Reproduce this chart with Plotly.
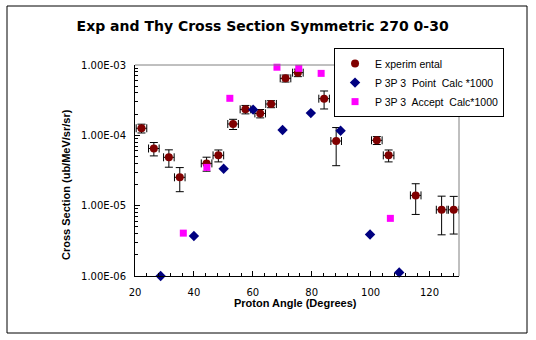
import plotly.graph_objects as go

# Experimental data
exp_x = [22.2, 26.4, 31.5, 35.2, 44.3, 48.3, 53.3, 57.5, 62.5, 66.2, 71.1, 75.3, 84.2, 88.3, 102.1, 106.1, 115.3, 124.1, 128.2]
exp_y = [1.26e-4, 6.5e-5, 4.87e-5, 2.53e-5, 3.99e-5, 5.19e-5, 1.45e-4, 2.34e-4, 2.05e-4, 2.79e-4, 6.46e-4, 7.78e-4, 3.32e-4, 8.3e-5, 8.5e-5, 5.19e-5, 1.4e-5, 8.75e-6, 8.75e-6]
exp_yerr = [1.8e-5, 1.4e-5, 1.35e-5, 0.95e-5, 0.9e-5, 1.0e-5, 0.24e-4, 0.32e-4, 0.28e-4, 0.32e-4, 0.74e-4, 0.95e-4, 0.95e-4, 4.6e-5, 1.1e-5, 1.0e-5, 6.5e-6, 4.9e-6, 4.8e-6]
exp_xerr = [1.8] * 19

# P3P3 Point Calc *1000
pt_x = [28.7, 40.0, 50.1, 60.1, 70.1, 79.7, 89.8, 99.8, 109.7]
pt_y = [1.0e-6, 3.7e-6, 3.35e-5, 2.32e-4, 1.19e-4, 2.07e-4, 1.16e-4, 3.9e-6, 1.12e-6]

# P3P3 Accept Calc *1000
acc_x = [36.4, 44.4, 52.2, 68.2, 75.6, 83.2, 106.7]
acc_y = [4.07e-6, 3.5e-5, 3.36e-4, 9.3e-4, 8.97e-4, 7.6e-4, 6.6e-6]

y_tickvals = [1e-6, 1e-5, 1e-4, 1e-3]
y_ticktext = ["1.00E-06", "1.00E-05", "1.00E-04", "1.00E-03"]
x_tickvals = [20, 40, 60, 80, 100, 120]

minor_y = [k * 10 ** e for e in (-6, -5, -4) for k in range(2, 10)]

FONT = "Arial, Liberation Sans, sans-serif"
WIDE = "DejaVu Sans, sans-serif"

fig = go.Figure()
fig.add_trace(go.Scatter(
    x=exp_x, y=exp_y, mode="markers", name="E xperim ental",
    marker=dict(symbol="circle", size=8, color="#800000"),
    error_y=dict(type="data", array=exp_yerr, color="black", thickness=1, width=4),
    error_x=dict(type="data", array=exp_xerr, color="black", thickness=1, width=4),
    cliponaxis=False,
))
fig.add_trace(go.Scatter(
    x=pt_x, y=pt_y, mode="markers", name="P 3P 3  Point  Calc *1000",
    marker=dict(symbol="diamond", size=8, color="#000080"),
    cliponaxis=False,
))
fig.add_trace(go.Scatter(
    x=acc_x, y=acc_y, mode="markers", name="P 3P 3  Accept  Calc*1000",
    marker=dict(symbol="square", size=7, color="#FF00FF"),
    cliponaxis=False,
))

fig.update_layout(
    width=536, height=340,
    margin=dict(l=135, r=77, t=65, b=64),
    paper_bgcolor="white", plot_bgcolor="white",
    font=dict(family=FONT, size=10, color="black"),
    title=dict(text="<b>Exp and Thy Cross Section Symmetric 270 0-30</b>",
               x=0.49, xanchor="center", y=0.923, yanchor="middle",
               font=dict(family=WIDE, size=14, color="black")),
    showlegend=True,
    legend=dict(x=1.139, xanchor="right", y=1.08, yanchor="top",
                bordercolor="black", borderwidth=1, bgcolor="white",
                font=dict(family=FONT, size=10.5, color="black"),
                itemwidth=30, tracegroupgap=0),
    xaxis=dict(range=[20, 130], tickvals=x_tickvals, ticks="inside", ticklen=5,
               tickcolor="black", showline=True, linecolor="black", linewidth=1,
               showgrid=False, zeroline=False, ticklabelstandoff=7,
               minor=dict(dtick=4, ticks="inside", ticklen=3, tickcolor="black", showgrid=False),
               tickfont=dict(family=WIDE, size=10)),
    yaxis=dict(type="log", range=[-6, -3], tickvals=y_tickvals, ticktext=y_ticktext,
               ticks="inside", ticklen=5, tickcolor="black", showline=True,
               linecolor="black", linewidth=1, showgrid=False, zeroline=False,
               ticklabelstandoff=6,
               minor=dict(tickvals=minor_y, ticks="inside", ticklen=3, tickcolor="black", showgrid=False),
               tickfont=dict(family=WIDE, size=10)),
    shapes=[
        dict(type="line", xref="paper", yref="paper", x0=0, x1=1, y0=1, y1=1,
             line=dict(color="#808080", width=1)),
        dict(type="line", xref="paper", yref="paper", x0=1, x1=1, y0=0, y1=1,
             line=dict(color="#808080", width=1)),
        dict(type="rect", xref="paper", yref="paper",
             x0=(7 - 135) / 324, x1=(527 - 135) / 324,
             y0=(276 - 333) / 211, y1=(276 - 6) / 211,
             line=dict(color="black", width=1)),
    ],
    annotations=[
        dict(text="<b>Cross Section (ub/MeV/sr/sr)</b>", textangle=-90,
             xref="paper", yref="paper", x=(66 - 135) / 324, y=(276 - 185) / 211,
             xanchor="center", yanchor="middle", showarrow=False,
             font=dict(family=FONT, size=11, color="black")),
        dict(text="<b>Proton Angle (Degrees)</b>",
             xref="paper", yref="paper", x=(295.5 - 135) / 324, y=(276 - 303) / 211,
             xanchor="center", yanchor="middle", showarrow=False,
             font=dict(family=FONT, size=11, color="black")),
    ],
)

fig.write_html("out.html")
